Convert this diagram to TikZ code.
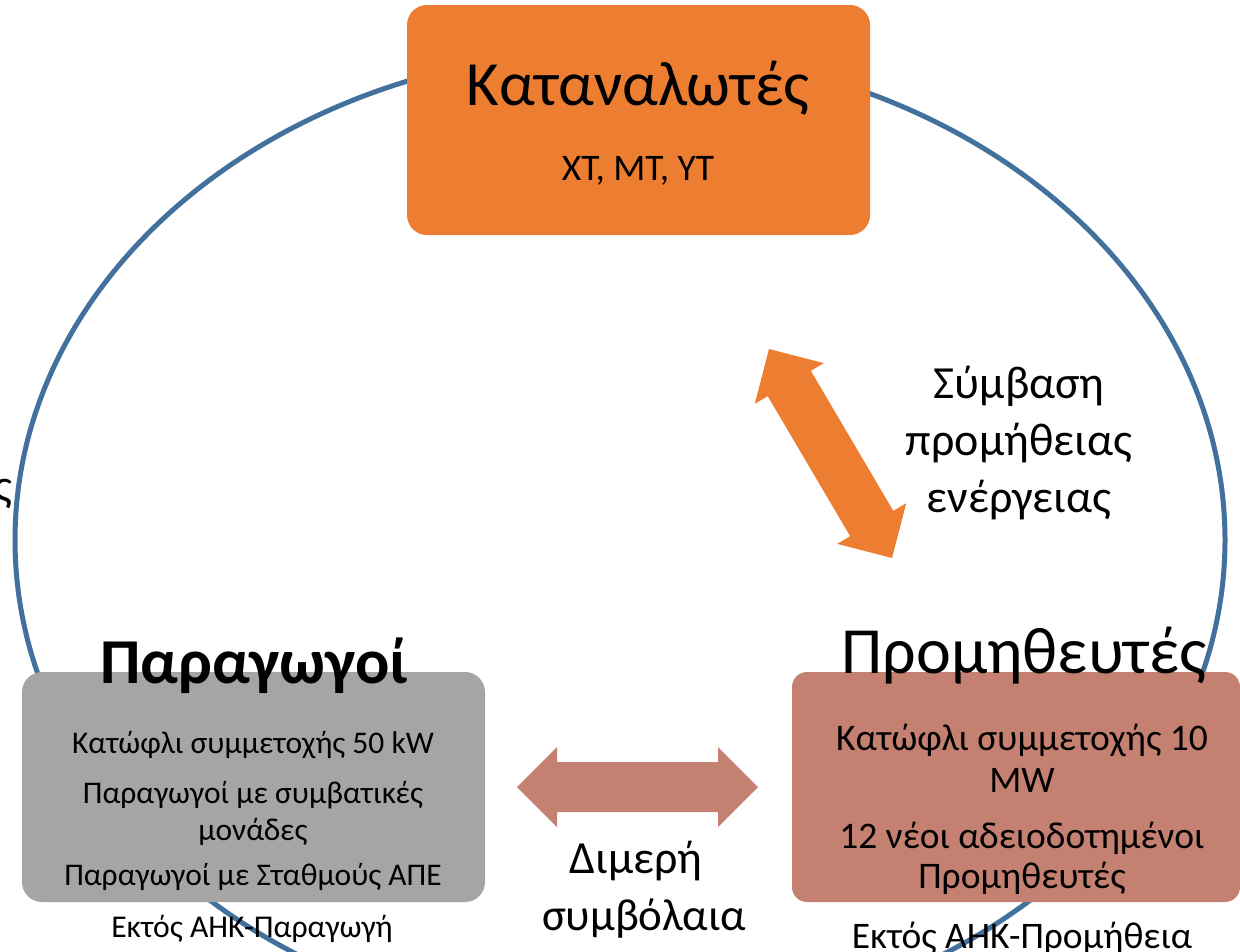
\documentclass[tikz,border=0pt]{standalone}
\usepackage{fontspec}
\setmainfont{Carlito}
\definecolor{corange}{RGB}{237,125,49}
\definecolor{cgray}{RGB}{165,165,165}
\definecolor{crose}{RGB}{196,128,112}
\definecolor{cring}{RGB}{65,113,156}
\begin{document}
\begin{tikzpicture}[x=1pt,y=-1pt,
  box/.style={rounded corners=20pt, minimum width=463pt, minimum height=230pt, inner sep=0pt},
  txt/.style={anchor=base, inner sep=0pt},
  ring/.style={draw=cring, line width=5pt},
  fa/.style={font=\fontsize{63pt}{76pt}\selectfont},
  fb/.style={font=\fontsize{37.5pt}{45pt}\selectfont},
  fc/.style={font=\fontsize{31.5pt}{38pt}\selectfont},
  fd/.style={font=\fontsize{37.5pt}{45pt}\selectfont},
  fe/.style={font=\fontsize{46pt}{57pt}\selectfont},
  ]
\useasboundingbox (0,0) rectangle (1240,951);
\clip (0,0) rectangle (1240,951);
\fill[white] (0,0) rectangle (1240,951);
\draw[ring] (620,540) ellipse [x radius=605pt, y radius=490pt];
\node[box, fill=corange] (cons) at (638.5,120) {};
\node[box, fill=cgray] (prod) at (253.5,787) {};
\node[box, fill=crose, minimum width=448pt, rounded corners=15pt] (supp) at (1016,787) {};
% texts
\node[txt, fa] (consT) at (638,105) {Καταναλωτές};
\node[txt, fb] (consS) at (638,180) {ΧΤ, ΜΤ, ΥΤ};
\node[txt, font=\fontsize{64pt}{77pt}\selectfont\bfseries] (prodT) at (254,683) {Παραγωγοί};
\node[txt, fc] (p1) at (253,753) {Κατώφλι συμμετοχής 50 kW};
\node[txt, fc] (p2) at (253,803) {Παραγωγοί με συμβατικές};
\node[txt, fc] (p3) at (253,840) {μονάδες};
\node[txt, fc] (p4) at (253,885) {Παραγωγοί με Σταθμούς ΑΠΕ};
\node[txt, font=\fontsize{31.7pt}{38pt}\selectfont] (pout) at (252,937) {Εκτός ΑΗΚ-Παραγωγή};
\node[txt, font=\fontsize{66pt}{79pt}\selectfont] (suppT) at (1024,673) {Προμηθευτές};
\node[txt, fd] (s1) at (1022,750) {Κατώφλι συμμετοχής 10};
\node[txt, fd] (s2) at (1022,792) {MW};
\node[txt, fd] (s3) at (1022,848) {12 νέοι αδειοδοτημένοι};
\node[txt, fd] (s4) at (1022,888) {Προμηθευτές};
\node[txt, font=\fontsize{37.5pt}{45pt}\selectfont] (sout) at (1022,948) {Εκτός ΑΗΚ-Προμήθεια};
\node[txt, fe] (c1) at (1019,398) {Σύμβαση};
\node[txt, fe] (c2) at (1019,455) {προμήθειας};
\node[txt, fe] (c3) at (1019,512) {ενέργειας};
\node[txt, fe] (d1) at (636,873) {Διμερή};
\node[txt, font=\fontsize{45pt}{56pt}\selectfont] (d2) at (644,930) {συμβόλαια};
\node[anchor=base east, inner sep=0pt, fe] (frag) at (13,501) {ς};
% block arrows
\fill[corange] (769,349) -- (823.77,363.19) -- (810.84,370.8) -- (893.26,510.84) -- (906.19,503.23)
  -- (892,558) -- (837.23,543.81) -- (850.16,536.2) -- (767.74,396.16) -- (754.81,403.77) -- cycle;
\fill[crose] (517,787) -- (557,747) -- (557,762) -- (718,762) -- (718,747) -- (758,787)
  -- (718,827) -- (718,812) -- (557,812) -- (557,827) -- cycle;
\end{tikzpicture}
\end{document}
